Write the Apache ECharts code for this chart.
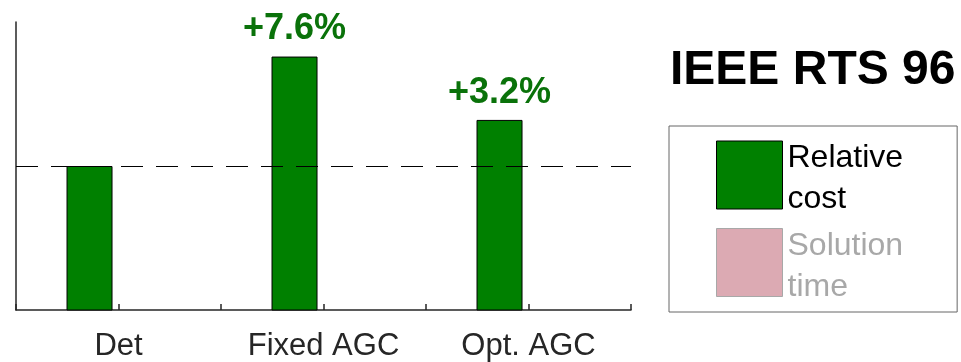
<!DOCTYPE html>
<html>
<head>
<meta charset="utf-8">
<script src="https://cdn.jsdelivr.net/npm/echarts@6/dist/echarts.min.js"></script>
<style>
  html, body { margin: 0; padding: 0; background: #fff; }
  #chart { width: 961px; height: 362px; }
</style>
</head>
<body>
<div id="chart"></div>
<script>
// 数据
const categories = ['Det', 'Fixed AGC', 'Opt. AGC']
const relativeCost = [1.0, 1.076, 1.032]
// solution time is switched off in the original figure, nothing drawn
const solutionTime = []
const baseline = 1.0

const font = 'Liberation Sans, Arial, Helvetica, sans-serif'
const axisColor = '#262626'

const myChart = echarts.init(document.getElementById('chart'))

const option = {
  animation: false,
  textStyle: { fontFamily: font },
  title: {
    text: 'IEEE RTS 96',
    left: 665,
    top: 42,
    textStyle: { fontFamily: font, fontSize: 48, fontWeight: 'bold', color: '#000' }
  },
  legend: {
    orient: 'vertical',
    left: 669,
    top: 126,
    padding: [4, 54, 9, 47],
    borderColor: '#666',
    borderWidth: 1,
    icon: 'rect',
    itemWidth: 66,
    itemHeight: 68,
    itemGap: 2,
    itemTextGap: 12,
    itemStyle: { borderWidth: 1 },
    // small empty first line pushes the two text lines down a little
    formatter: (name) => '{s| }\n' + name.split(' ').map((w) => '{t|' + w + '}').join('\n'),
    textStyle: {
      fontFamily: font,
      fontSize: 32,
      color: '#000',
      rich: {
        s: { fontSize: 8, lineHeight: 8 },
        t: { fontSize: 32, lineHeight: 41 }
      }
    },
    data: [
      { name: 'Relative cost', itemStyle: { color: '#008000', borderColor: '#000' } },
      {
        name: 'Solution time',
        itemStyle: { color: '#dcaab3', borderColor: '#a8a8a8' },
        textStyle: { color: '#a8a8a8' }
      }
    ]
  },
  grid: { left: 16, right: 330, top: 22, bottom: 51 },
  xAxis: {
    type: 'value',
    min: -0.5,
    max: 2.5,
    interval: 0.5,
    splitLine: { show: false },
    axisLine: { show: true, lineStyle: { color: axisColor, width: 1.5 } },
    axisTick: { show: true, inside: true, length: 6, lineStyle: { color: axisColor, width: 1.5 } },
    axisLabel: {
      margin: 21,
      fontSize: 31,
      color: axisColor,
      fontFamily: font,
      formatter: (v) => (Number.isInteger(v) && categories[v] !== undefined ? categories[v] : '')
    }
  },
  yAxis: {
    type: 'value',
    min: 0.9,
    max: 1.1,
    splitLine: { show: false },
    axisLine: { show: true, onZero: false, lineStyle: { color: axisColor, width: 1.5 } },
    axisTick: { show: false },
    axisLabel: { show: false }
  },
  series: [
    {
      name: 'Relative cost',
      type: 'bar',
      barWidth: 46,
      barGap: '26%',
      data: relativeCost.map((v, i) => [i, v]),
      itemStyle: { color: '#008000', borderColor: '#000', borderWidth: 1 },
      label: {
        show: true,
        position: 'top',
        distance: 9,
        fontFamily: font,
        fontSize: 36,
        fontWeight: 'bold',
        color: '#0a720a',
        formatter: (p) => {
          const v = p.value[1]
          return v > baseline ? '+' + ((v - baseline) * 100).toFixed(1) + '%' : ''
        }
      },
      markLine: {
        silent: true,
        symbol: 'none',
        label: { show: false },
        lineStyle: { color: '#000', type: [22, 13], width: 1.2 },
        data: [{ yAxis: baseline }]
      }
    },
    {
      name: 'Solution time',
      type: 'bar',
      barWidth: 46,
      barGap: '26%',
      data: solutionTime,
      itemStyle: { color: '#dcaab3', borderColor: '#a8a8a8' }
    }
  ]
}

myChart.setOption(option)
window.addEventListener('resize', () => myChart.resize(), false)
</script>
</body>
</html>
